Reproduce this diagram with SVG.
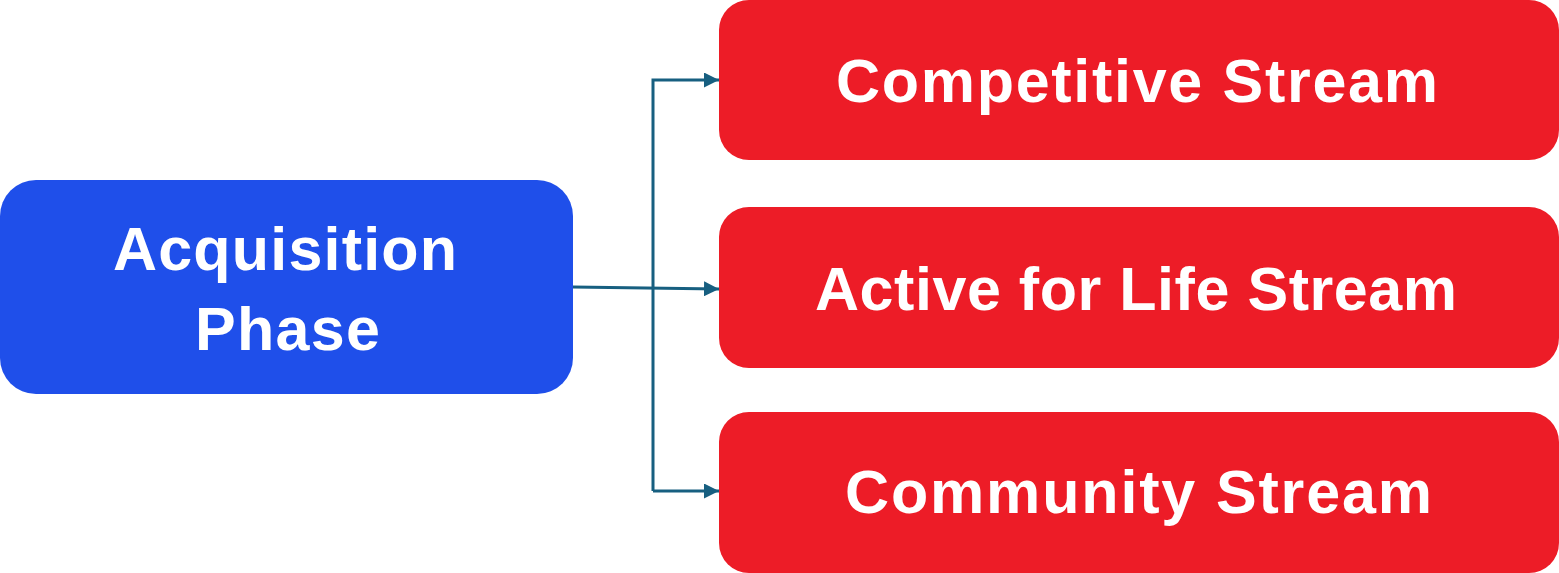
<svg xmlns="http://www.w3.org/2000/svg" width="1559" height="573" viewBox="0 0 1559 573">
<defs>
<style>
.blue{fill:#1f4fea;}
.red{fill:#ed1c27;}
.lbl{font-family:"Liberation Sans",Arial,sans-serif;font-weight:bold;font-size:61px;fill:#ffffff;text-anchor:middle;}
.conn{stroke:#175f80;stroke-width:3;fill:none;}
</style>
<marker id="arr" viewBox="0 0 10 10" refX="10" refY="5" markerWidth="5" markerHeight="5" markerUnits="strokeWidth" orient="auto">
<path d="M0,0 L10,5 L0,10 z" fill="#175f80"/>
</marker>
</defs>
<g id="connectors">
<path class="conn" d="M573,287 L719,289" marker-end="url(#arr)"/>
<path class="conn" d="M653,491 L653,80 L719,80" marker-end="url(#arr)"/>
<path class="conn" d="M653,491 L719,491" marker-end="url(#arr)"/>
</g>
<g id="acquisition">
<rect class="blue" x="0" y="180" width="573" height="214" rx="36" ry="36"/>
<text class="lbl" x="285" y="270" textLength="344" lengthAdjust="spacing">Acquisition</text>
<text class="lbl" x="287.5" y="350" textLength="185" lengthAdjust="spacing">Phase</text>
</g>
<g id="competitive">
<rect class="red" x="719" y="0" width="840" height="160" rx="30" ry="30"/>
<text class="lbl" x="1137" y="102" textLength="602" lengthAdjust="spacing">Competitive Stream</text>
</g>
<g id="active">
<rect class="red" x="719" y="207" width="840" height="161" rx="30" ry="30"/>
<text class="lbl" x="1136" y="310" textLength="642" lengthAdjust="spacing">Active for Life Stream</text>
</g>
<g id="community">
<rect class="red" x="719" y="412" width="840" height="161" rx="30" ry="30"/>
<text class="lbl" x="1138.5" y="513" textLength="587" lengthAdjust="spacing">Community Stream</text>
</g>
</svg>
